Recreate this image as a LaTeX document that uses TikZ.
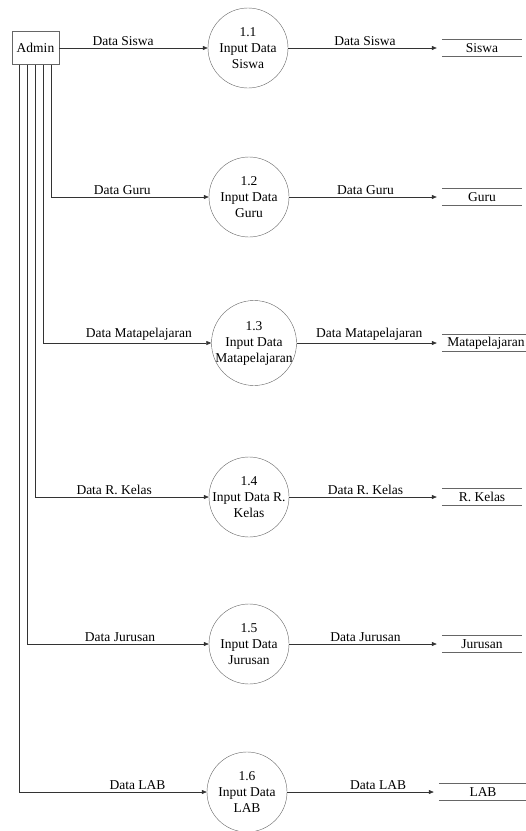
\documentclass[tikz,border=0pt]{standalone}
\usepackage{fontspec}
\setmainfont{Liberation Serif}
\usetikzlibrary{arrows.meta}

\begin{document}
\begin{tikzpicture}[
  x=1pt, y=1pt,
  every node/.style={
      font=\fontsize{13.5}{16}\selectfont
  },
  entity/.style={
      rectangle,
      draw=black!60,
      minimum width=47pt,
      minimum height=33pt,
      inner sep=0pt
  },
  proc/.style={
      circle,
      draw=black!60,
      align=center,
      inner sep=-6pt,
      minimum size=80pt
  },
  store/.style={
      rectangle,
      minimum width=80pt,
      minimum height=17pt,
      inner sep=0pt
  },
  storeline/.style={
      draw=black!60,
      line width=0.6pt
  },
  lbl/.style={
      above,
      inner sep=2.5pt
  },
  arrow/.style={
      -{Triangle[length=5pt,width=4pt]},
      draw=black!80,
      line width=0.6pt
  }
]

\useasboundingbox (0,0) rectangle (526,-831);

% ==================================================
% Admin
% ==================================================

\node[entity] (admin) at (35.5,-48) {Admin};

% ==================================================
% Processes
% ==================================================

\node[proc] (p1) at (248,-48)  {1.1\\Input Data\\Siswa};
\node[proc] (p2) at (249,-197) {1.2\\Input Data\\Guru};
\node[proc,
      minimum size=85pt]
      (p3) at (254,-343) {1.3\\Input Data\\Matapelajaran};
\node[proc] (p4) at (249,-497) {1.4\\Input Data R.\\Kelas};
\node[proc] (p5) at (249,-644) {1.5\\Input Data\\Jurusan};
\node[proc] (p6) at (247,-792) {1.6\\Input Data\\LAB};

% ==================================================
% Data Stores
% ==================================================

\node[store] (siswa)   at (482,-48)  {Siswa};
\node[store] (guru)    at (482,-197) {Guru};
\node[store,
      minimum width=88pt]
      (mapel)   at (486,-343) {Matapelajaran};
\node[store] (kelas)   at (482,-497) {R. Kelas};
\node[store] (jurusan) at (482,-644) {Jurusan};
\node[store,
      minimum width=88pt]
      (lab)     at (483,-792) {LAB};

\foreach \s in {siswa,guru,mapel,kelas,jurusan,lab}
  \draw[storeline] (\s.north west) -- (\s.north east)
                   (\s.south west) -- (\s.south east);

% ==================================================
% Admin to Processes
% ==================================================

\draw[arrow]
      (admin)
      -- node[lbl, pos=.43] {Data Siswa} (p1);

\draw[arrow]
      ([xshift=16pt]admin.south)
      |- node[lbl, pos=.725] {Data Guru} (p2);

\draw[arrow]
      ([xshift=8pt]admin.south)
      |- node[lbl, pos=.784] {Data Matapelajaran} (p3);

\draw[arrow]
      (admin.south)
      |- node[lbl, pos=.727] {Data R. Kelas} (p4);

\draw[arrow]
      ([xshift=-8pt]admin.south)
      |- node[lbl, pos=.755] {Data Jurusan} (p5);

\draw[arrow]
      ([xshift=-16pt]admin.south)
      |- node[lbl, pos=.815] {Data LAB} (p6);

% ==================================================
% Processes to Data Stores
% ==================================================

\draw[arrow, shorten >=5pt]
      (p1) -- node[lbl] {Data Siswa} (siswa);

\draw[arrow, shorten >=5pt]
      (p2) -- node[lbl] {Data Guru} (guru);

\draw[arrow, shorten >=5pt]
      (p3) -- node[lbl] {Data Matapelajaran} (mapel);

\draw[arrow, shorten >=5pt]
      (p4) -- node[lbl] {Data R. Kelas} (kelas);

\draw[arrow, shorten >=5pt]
      (p5) -- node[lbl] {Data Jurusan} (jurusan);

\draw[arrow, shorten >=5pt]
      (p6) -- node[lbl, pos=.6] {Data LAB} (lab);

\end{tikzpicture}
\end{document}
